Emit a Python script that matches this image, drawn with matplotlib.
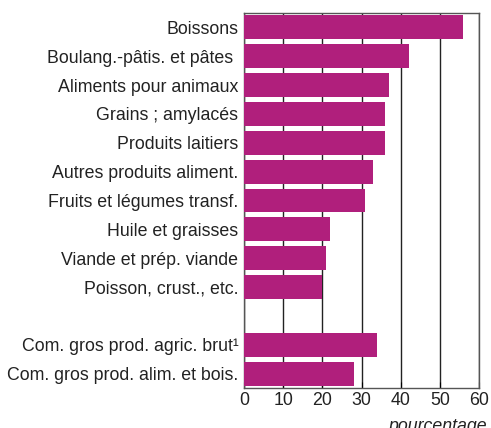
import matplotlib
matplotlib.use("Agg")
import matplotlib.pyplot as plt

plt.rcParams['font.family'] = ['Liberation Sans', 'DejaVu Sans']

categories = [
    "Boissons",
    "Boulang.-pâtis. et pâtes ",
    "Aliments pour animaux",
    "Grains ; amylacés",
    "Produits laitiers",
    "Autres produits aliment.",
    "Fruits et légumes transf.",
    "Huile et graisses",
    "Viande et prép. viande",
    "Poisson, crust., etc.",
    "Com. gros prod. agric. brut¹",
    "Com. gros prod. alim. et bois.",
]
values = [56, 42, 37, 36, 36, 33, 31, 22, 21, 20, 34, 28]
positions = [0, 1, 2, 3, 4, 5, 6, 7, 8, 9, 11, 12]
xticks = [0, 10, 20, 30, 40, 50, 60]

fig = plt.figure(figsize=(4.91, 4.28), dpi=100)
ax = fig.add_axes([244/491, 1-388/428, 235/491, 375/428])
ax.barh(positions, values, height=0.83, color='#B01F7C', zorder=3)
ax.set_yticks(positions)
ax.set_yticklabels(categories, fontsize=12.8, color='#222222')
ax.set_ylim(12.5, -0.5)
ax.set_xlim(0, 60)
ax.set_xticks(xticks)
ax.set_xticklabels([str(t) for t in xticks], fontsize=12.8, color='#222222')
ax.tick_params(axis='y', length=0, pad=4)
ax.tick_params(axis='x', length=4, direction='in', pad=3)
ax.grid(axis='x', color='#222222', linewidth=1.0, zorder=1)
for s in ax.spines.values():
    s.set_color('#555555')
    s.set_linewidth(1.0)
ax.set_xlabel('pourcentage', fontsize=12.8, style='italic', color='#222222', labelpad=0)
ax.xaxis.set_label_coords(1.035, -0.08)
ax.xaxis.label.set_horizontalalignment('right')
fig.savefig('out.png', dpi=100)
